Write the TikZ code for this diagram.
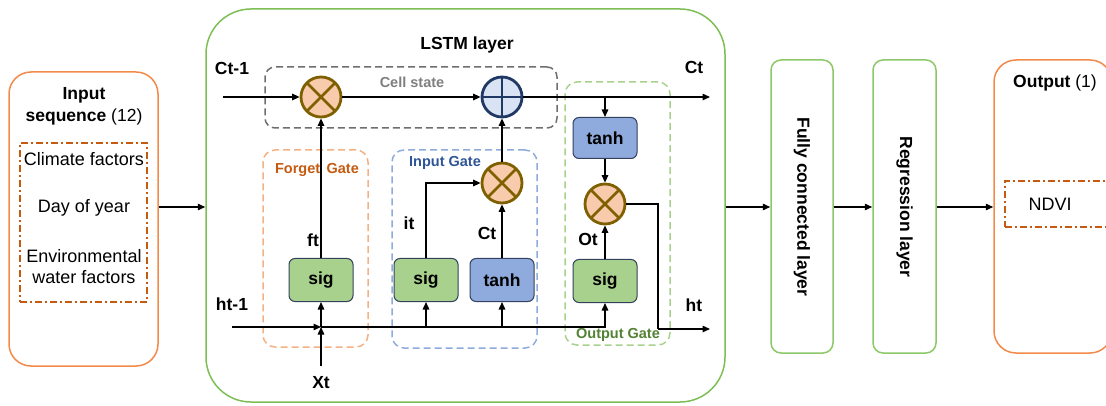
\documentclass[tikz,border=0pt]{standalone}
\usepackage{fontspec}
\setmainfont{Liberation Sans}
\usetikzlibrary{arrows.meta}

\definecolor{ioorange}{HTML}{F28A4A}
\definecolor{dashorange}{HTML}{C55A11}
\definecolor{lstmgreen}{HTML}{7DBE55}
\definecolor{layergreen}{HTML}{8CC868}
\definecolor{cellgray}{HTML}{6E6E6E}
\definecolor{celltext}{HTML}{7F7F7F}
\definecolor{forgetline}{HTML}{F4B183}
\definecolor{forgettext}{HTML}{C55A11}
\definecolor{inputline}{HTML}{8FAADC}
\definecolor{inputtext}{HTML}{2F5597}
\definecolor{outputline}{HTML}{A9D18E}
\definecolor{outputtext}{HTML}{548235}
\definecolor{multfill}{HTML}{F8CBAD}
\definecolor{multedge}{HTML}{7F6000}
\definecolor{plusfill}{HTML}{DAE3F3}
\definecolor{plusedge}{HTML}{1F3864}
\definecolor{sigfill}{HTML}{A9D18E}
\definecolor{tanhfill}{HTML}{8FAADC}
\definecolor{unitedge}{HTML}{33415C}

\tikzset{
  txt/.style={font=\fontsize{18}{21}\selectfont, inner sep=0pt},
  btxt/.style={font=\bfseries\fontsize{17.5}{20}\selectfont, inner sep=0pt},
  gtxt/.style={font=\bfseries\fontsize{14.5}{17}\selectfont, inner sep=0pt},
  arr/.style={-{Triangle[length=7.5pt,width=6.5pt]}, line width=1.4pt, black},
  wire/.style={line width=1.4pt, black},
  iobox/.style={draw=ioorange, line width=1.5pt, rounded corners=22pt, inner sep=0pt},
  dashdotbox/.style={draw=dashorange, line width=1.5pt, inner sep=0pt,
    dash pattern=on 7pt off 3pt on 2pt off 3pt},
  layerbox/.style={draw=layergreen, line width=1.5pt, rounded corners=10pt, inner sep=0pt},
  gatearea/.style={line width=1.5pt, rounded corners=12pt, inner sep=0pt,
    dash pattern=on 7pt off 4pt},
  unit/.style={draw=unitedge, line width=1pt, rounded corners=6pt,
    minimum width=64pt, minimum height=43pt, inner sep=0pt,
    font=\bfseries\fontsize{17.5}{20}\selectfont},
  sigunit/.style={unit, fill=sigfill},
  tanhunit/.style={unit, fill=tanhfill},
  mult/.style={circle, draw=multedge, fill=multfill, line width=2.8pt,
    minimum size=40pt, inner sep=0pt,
    path picture={
      \draw[multedge, line width=2.8pt]
        ([shift={(-25pt,-25pt)}]path picture bounding box.center) --
        ([shift={(25pt,25pt)}]path picture bounding box.center)
        ([shift={(-25pt,25pt)}]path picture bounding box.center) --
        ([shift={(25pt,-25pt)}]path picture bounding box.center);}},
  plus/.style={circle, draw=plusedge, fill=plusfill, line width=2.8pt,
    minimum size=40pt, inner sep=0pt,
    path picture={
      \draw[plusedge, line width=2.8pt]
        ([shift={(-25pt,0pt)}]path picture bounding box.center) --
        ([shift={(25pt,0pt)}]path picture bounding box.center)
        ([shift={(0pt,-25pt)}]path picture bounding box.center) --
        ([shift={(0pt,25pt)}]path picture bounding box.center);}},
}

\begin{document}
\begin{tikzpicture}[x=1pt, y=-1pt]
\useasboundingbox (0,0) rectangle (1106,406);

% ---------- input block ----------
\node[iobox, minimum width=149pt, minimum height=294pt] (inbox) at (83.5,219) {};
\node[dashdotbox, minimum width=127pt, minimum height=159pt] (infeat) at (83.5,222.5) {};
\node[txt, align=center, font=\fontsize{17.5}{22}\selectfont] (intitle) at (84,106)
  {\textbf{Input}\\\textbf{sequence} (12)};
\node[txt] (fclim) at (84,159) {Climate factors};
\node[txt] (fday) at (84,208) {Day of year};
\node[txt, align=center] (fenv) at (84,267) {Environmental\\water factors};

% ---------- LSTM layer ----------
\node[draw=lstmgreen, line width=1.5pt, rounded corners=45pt,
      minimum width=519pt, minimum height=393pt, inner sep=0pt] (lstm) at (465.5,205.5) {};
\node[btxt] (lstmtitle) at (467,45) {LSTM layer};

% gate areas
\node[gatearea, draw=cellgray, rounded corners=10pt, minimum width=292pt, minimum height=61pt] (cellarea) at (411,97.5) {};
\node[gatearea, draw=forgetline, minimum width=105pt, minimum height=197pt] (forgetarea) at (315.5,248.5) {};
\node[gatearea, draw=inputline, minimum width=145pt, minimum height=198pt] (inputarea) at (464.5,249) {};
\node[gatearea, draw=outputline, minimum width=105pt, minimum height=263pt] (outputarea) at (617.5,213.5) {};

\node[gtxt, text=celltext] (celllbl) at (412,82) {Cell state};
\node[gtxt, text=forgettext] (forgetlbl) at (317,170) {Forget\, Gate};
\node[gtxt, text=inputtext] (inputlbl) at (445,163) {Input Gate};
\node[gtxt, text=outputtext, fill=white, inner sep=1pt] (outputlbl) at (618,335) {Output Gate};

% pointwise operations
\node[mult] (m1) at (321,97) {};
\node[plus] (pl) at (502,97) {};
\node[mult] (m2) at (502,183) {};
\node[mult] (m3) at (605,204) {};

% network units
\node[sigunit] (fsig) at (321,280) {sig};
\node[sigunit] (isig) at (426,280) {sig};
\node[tanhunit] (itanh) at (502,280) {tanh};
\node[tanhunit, minimum height=41pt] (otanh) at (605,138) {tanh};
\node[sigunit] (osig) at (605,281) {sig};

% signal labels
\node[btxt] (lctin) at (232,68) {Ct-1};
\node[btxt] (lctout) at (694,67) {Ct};
\node[btxt] (lhtin) at (232,304) {ht-1};
\node[btxt] (lhtout) at (694,305) {ht};
\node[btxt] (lxt) at (321,383) {Xt};
\node[btxt] (lft) at (313,240) {ft};
\node[btxt] (lit) at (409,223) {it};
\node[btxt] (lct) at (487,233) {Ct};
\node[btxt] (lot) at (588,239) {Ot};

% wiring coordinates
\coordinate (ctin) at (223,97);
\coordinate (ctout) at (710,97);
\coordinate (ctbranch) at (605,97);
\coordinate (htin) at (232,327);
\coordinate (jn) at (321,327);
\coordinate (xtin) at (321,366);
\coordinate (hbend) at (658,329);
\coordinate (htout) at (710,329);

% cell state path
\draw[arr] (ctin) -- (m1.west);
\draw[arr] (m1.east) -- (pl.west);
\draw[arr] (pl.east) -- (ctout);
\draw[arr] (ctbranch) -- (otanh.north);

% forget gate
\draw[arr] (htin) -- (jn);
\draw[arr] (xtin) -- (jn);
\draw[arr] (jn) -- (fsig.south);
\draw[arr] (fsig.north) -- (m1.south);

% input gate
\draw[arr] (jn) -| (osig.south);
\draw[arr] (isig.south |- jn) -- (isig.south);
\draw[arr] (itanh.south |- jn) -- (itanh.south);
\draw[arr] (isig.north) |- (m2.west);
\draw[arr] (itanh.north) -- (m2.south);
\draw[arr] (m2.north) -- (pl.south);

% output gate
\draw[arr] (otanh.south) -- (m3.north);
\draw[arr] (osig.north) -- (m3.south);
\draw[wire] (m3.east) -| (hbend);
\draw[arr] (hbend) -- (htout);

% ---------- dense layers and output ----------
\node[layerbox, minimum width=62pt, minimum height=293pt] (fc) at (802,206.5) {};
\node[btxt, rotate=-90] (fclbl) at (802,207) {Fully connected layer};
\node[layerbox, minimum width=63pt, minimum height=293pt] (reg) at (904.5,206.5) {};
\node[btxt, rotate=-90] (reglbl) at (904.5,207) {Regression layer};

\node[iobox, minimum width=118pt, minimum height=293pt] (outbox) at (1053,206.5) {};
\node[txt, font=\fontsize{17.5}{20}\selectfont] (outtitle) at (1055,83) {\textbf{Output} (1)};
\node[dashdotbox, minimum width=107pt, minimum height=46pt] (outfeat) at (1058.5,204) {};
\node[txt] (ndvi) at (1050,204) {NDVI};

% block connections
\coordinate (flow) at (0,207);
\draw[arr] (inbox.east |- flow) -- (lstm.west |- flow);
\draw[arr] (lstm.east |- flow) -- (fc.west |- flow);
\draw[arr] (fc.east |- flow) -- (reg.west |- flow);
\draw[arr] (reg.east |- flow) -- (outbox.west |- flow);
\end{tikzpicture}
\end{document}
